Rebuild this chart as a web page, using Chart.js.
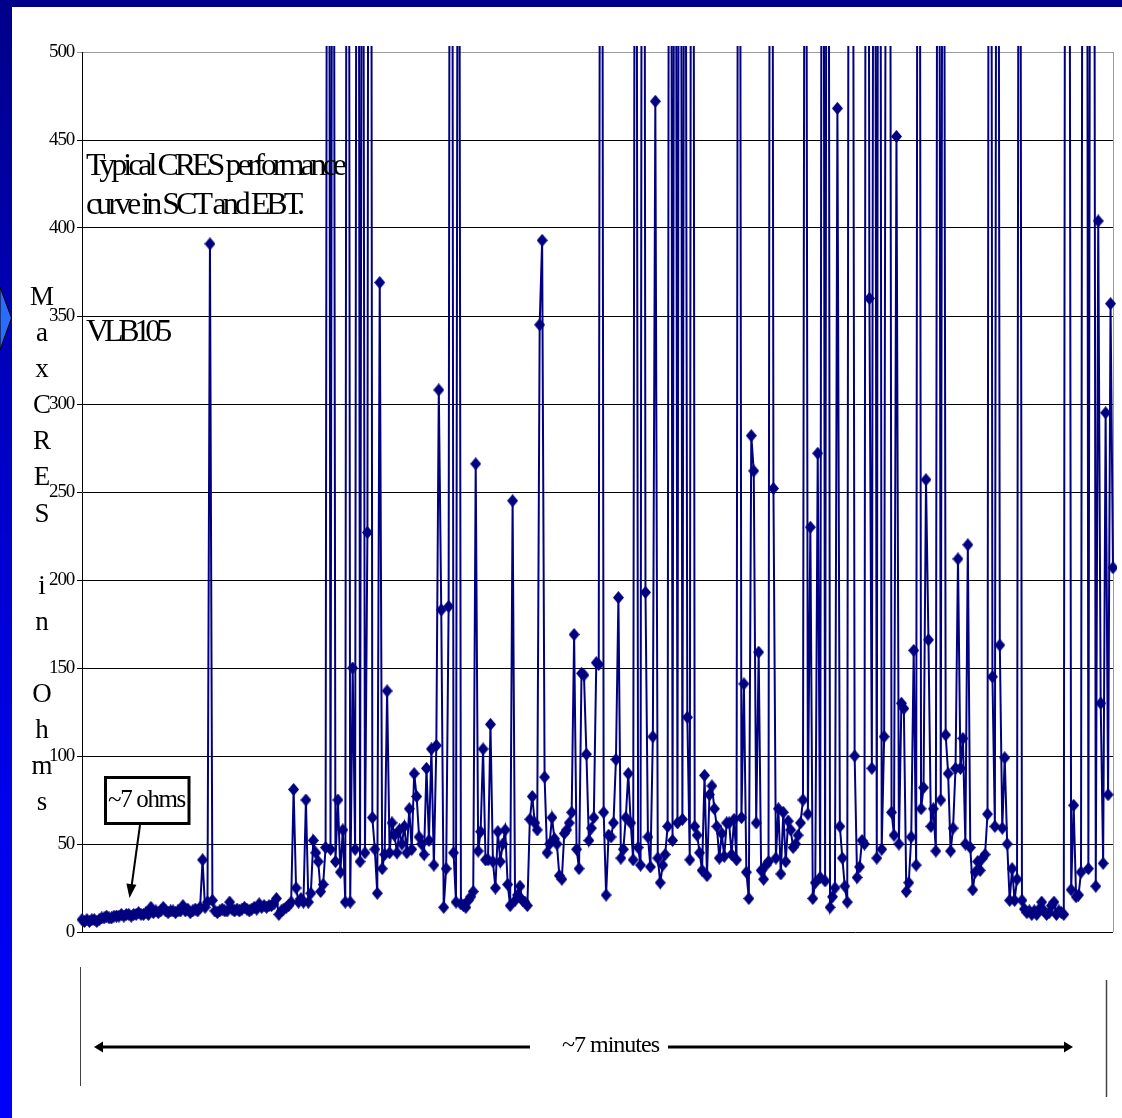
<!DOCTYPE html>
<html>
<head>
<meta charset="utf-8">
<title>Typical CRES performance curve</title>
<script src="https://cdn.jsdelivr.net/npm/chart.js@4.4.1/dist/chart.umd.min.js"></script>
<style>
  html, body { margin: 0; padding: 0; background: #fff; }
  #page { position: relative; width: 1122px; height: 1118px; overflow: hidden; background: #fff;
          font-family: "Liberation Serif", "Times New Roman", serif; color: #000; }
  #cresChart { position: absolute; left: 0; top: 0; }
  .topbar { position: absolute; left: 0; top: 0; width: 1122px; height: 7px; background: #00008a; }
  .leftbar { position: absolute; left: 0; top: 0; width: 12px; height: 1118px;
             background: linear-gradient(to bottom, #00008a 0%, #0000c0 35%, #0000e8 70%, #0000fa 100%); }
  .overlay { position: absolute; left: 0; top: 0; }
  .note { position: absolute; white-space: nowrap; line-height: 1; display: inline-block; }
  .big { font-size: 32px; }
  .ytitle { position: absolute; left: 22px; top: 278px; width: 40px; text-align: center;
            font-size: 27px; line-height: 36.1px; }
</style>
</head>
<body>
<div id="page">
  <canvas id="cresChart" width="1122" height="1118"></canvas>
  <div class="topbar"></div>
  <div class="leftbar"></div>
  <svg class="overlay" width="1122" height="1118">
    <polygon points="0,287 11.5,318 0,350" fill="#2a6cff" stroke="#000" stroke-width="1"/>
    <!-- "~7 ohms" callout -->
    <rect x="105.5" y="777.5" width="83.5" height="46" fill="#fff" stroke="#000" stroke-width="3"/>
    <line x1="140" y1="825" x2="131.6" y2="886" stroke="#000" stroke-width="2"/>
    <polygon points="129.5,898 126.4,883.4 136.4,884.8" fill="#000"/>
    <!-- time span marker -->
    <line x1="80.5" y1="967" x2="80.5" y2="1086" stroke="#444" stroke-width="1"/>
    <line x1="1106.5" y1="980" x2="1106.5" y2="1097" stroke="#444" stroke-width="1.5"/>
    <line x1="102" y1="1047" x2="530" y2="1047" stroke="#000" stroke-width="3"/>
    <line x1="668" y1="1047" x2="1065" y2="1047" stroke="#000" stroke-width="3"/>
    <polygon points="94,1047 103,1041.5 103,1052.5" fill="#000"/>
    <polygon points="1073,1047 1064,1041.5 1064,1052.5" fill="#000"/>
  </svg>
  <div class="note big" data-w="257" style="left:86px; top:148px;">Typical CRES performance</div>
  <div class="note big" data-w="215" style="left:86px; top:187px;">curve in SCT and EBT.</div>
  <div class="note big" data-w="81" style="left:86px; top:314px;">VLB105</div>
  <div class="note" data-w="77" style="left:108px; top:786px; font-size:25px;">~7 ohms</div>
  <div class="note" data-w="97" style="left:562px; top:1032px; font-size:24px;">~7 minutes</div>
  <div class="ytitle">M<br>a<br>x<br>C<br>R<br>E<br>S<br>&nbsp;<br>i<br>n<br>&nbsp;<br>O<br>h<br>m<br>s</div>
</div>

<script>
// Max CRES reading (ohms), one sample per second over ~7 minutes.
// Values above 500 run off the top of the plot; their size is estimated.
const minute1 = [7, 6, 7, 6, 7, 7, 6, 7, 8, 8,
                 9, 8, 8, 9, 9, 9, 10, 9, 10, 10,
                 9, 10, 10, 11, 10, 10, 11, 10, 14, 11,
                 12, 11, 12, 14, 12, 11, 12, 12, 11, 12,
                 12, 15, 12, 13, 11, 12, 13, 12, 14, 41,
                 14, 17, 391, 18, 12, 11, 12, 13, 12, 12];
const minute2 = [17, 13, 12, 13, 12, 13, 14, 13, 12, 13,
                 14, 13, 16, 14, 15, 14, 15, 15, 16, 19,
                 10, 12, 13, 14, 15, 17, 81, 25, 17, 19,
                 17, 75, 17, 22, 52, 45, 40, 23, 27, 48,
                 1150, 47, 980, 40, 75, 34, 58, 17, 1300, 17,
                 150, 47, 1200, 40, 900, 45, 227, 1400, 65, 47];
const minute3 = [22, 369, 36, 44, 137, 45, 62, 55, 45, 58,
                 50, 60, 45, 70, 47, 90, 77, 54, 50, 44,
                 93, 52, 104, 38, 106, 308, 183, 14, 36, 185,
                 1250, 45, 17, 950, 16, 15, 14, 18, 20, 23,
                 266, 46, 57, 104, 41, 41, 118, 40, 25, 57,
                 40, 50, 58, 27, 15, 245, 18, 21, 26, 18];
const minute4 = [17, 15, 64, 77, 62, 58, 345, 393, 88, 45,
                 50, 65, 53, 50, 32, 30, 56, 58, 62, 68,
                 169, 47, 36, 147, 146, 101, 52, 59, 65, 153,
                 152, 1100, 68, 21, 55, 54, 62, 98, 190, 42,
                 47, 65, 90, 62, 41, 1000, 48, 38, 1350, 193,
                 54, 37, 111, 472, 42, 28, 38, 44, 60, 1200];
const minute5 = [52, 980, 62, 1150, 64, 870, 122, 41, 1300, 60,
                 55, 45, 35, 89, 32, 78, 83, 70, 60, 42,
                 56, 43, 62, 62, 44, 64, 41, 1100, 65, 141,
                 34, 19, 282, 262, 62, 159, 35, 30, 38, 40,
                 1250, 252, 42, 70, 33, 68, 40, 63, 58, 48,
                 50, 55, 62, 75, 960, 67, 230, 19, 28, 272];
const minute6 = [31, 1050, 29, 1200, 14, 20, 25, 468, 60, 42,
                 26, 17, 1150, 900, 100, 31, 37, 52, 50, 1300,
                 360, 93, 1000, 42, 1250, 47, 111, 880, 1100, 68,
                 55, 452, 50, 130, 127, 23, 28, 54, 160, 38,
                 1200, 70, 82, 257, 166, 60, 70, 46, 1050, 75,
                 940, 112, 90, 46, 59, 93, 212, 93, 110, 50];
const minute7 = [220, 48, 24, 34, 40, 35, 42, 44, 67, 1300,
                 145, 60, 1100, 163, 59, 99, 50, 18, 36, 18,
                 30, 1000, 18, 13, 11, 12, 10, 12, 10, 13,
                 17, 12, 10, 11, 15, 17, 10, 12, 11, 10,
                 1200, 950, 24, 72, 20, 21, 34, 1100, 1250, 36,
                 900, 1050, 26, 404, 130, 39, 295, 78, 357, 207];
const yTickValues = [0, 50, 100, 150, 200, 250, 300, 350, 400, 450, 500];

const cresOhms = [].concat(minute1, minute2, minute3, minute4, minute5, minute6, minute7);
const sampleLabels = cresOhms.map((v, i) => String(i + 1));

// Excel-style marker: a diamond a little taller than it is wide
function diamondMarker(w, h, color) {
  const c = document.createElement('canvas');
  c.width = w;
  c.height = h;
  const g = c.getContext('2d');
  g.fillStyle = color;
  g.beginPath();
  g.moveTo(w / 2, 0);
  g.lineTo(w, h / 2);
  g.lineTo(w / 2, h);
  g.lineTo(0, h / 2);
  g.closePath();
  g.fill();
  return c;
}

// grey right-hand edge of the plot frame
const frameEdge = {
  id: 'frameEdge',
  beforeDatasetsDraw(chart) {
    const { ctx, chartArea: a } = chart;
    ctx.save();
    ctx.strokeStyle = '#9a9a9a';
    ctx.lineWidth = 1;
    ctx.beginPath();
    ctx.moveTo(Math.round(a.right) + 0.5, a.top);
    ctx.lineTo(Math.round(a.right) + 0.5, a.bottom);
    ctx.stroke();
    ctx.restore();
  }
};

// squeeze the tick digits a little, like the original
const tightTicks = {
  id: 'tightTicks',
  beforeDraw(chart) { chart.ctx.letterSpacing = '-1.2px'; },
  afterDraw(chart) { chart.ctx.letterSpacing = '0px'; }
};

new Chart(document.getElementById('cresChart').getContext('2d'), {
  type: 'line',
  data: {
    labels: sampleLabels,
    datasets: [{
      label: 'Max CRES',
      data: cresOhms,
      borderColor: '#000080',
      borderWidth: 2,
      pointStyle: diamondMarker(11, 13, '#000080'),
      pointRadius: 5,
      tension: 0,
      clip: { left: 6, top: 6, right: 4, bottom: 6 }
    }]
  },
  options: {
    responsive: false,
    animation: false,
    devicePixelRatio: 1,
    layout: { padding: { top: 52, right: 9, bottom: 186, left: 0 } },
    plugins: {
      legend: { display: false },
      tooltip: { enabled: false },
      title: { display: false }
    },
    scales: {
      x: { display: false },
      y: {
        min: 0,
        max: 500,
        afterBuildTicks: scale => { scale.ticks = yTickValues.map(v => ({ value: v })); },
        afterFit: scale => { scale.width = 82; },
        ticks: {
          font: { family: 'Liberation Serif', size: 19 },
          color: '#000',
          padding: 3
        },
        grid: {
          color: c => (c.tick && c.tick.value === 500 ? '#9a9a9a' : '#000'),
          lineWidth: 1,
          tickLength: 5
        },
        border: { color: '#000', width: 1 }
      }
    }
  },
  plugins: [frameEdge, tightTicks]
});

// condense the annotation text to the widths seen in the original slide
function fitNotes() {
  document.querySelectorAll('.note[data-w]').forEach(el => {
    el.style.letterSpacing = '0px';
    const natural = el.getBoundingClientRect().width;
    const n = el.textContent.length;
    el.style.letterSpacing = ((+el.dataset.w - natural) / n).toFixed(2) + 'px';
  });
}
fitNotes();
if (document.fonts && document.fonts.ready) document.fonts.ready.then(fitNotes);
</script>
</body>
</html>
